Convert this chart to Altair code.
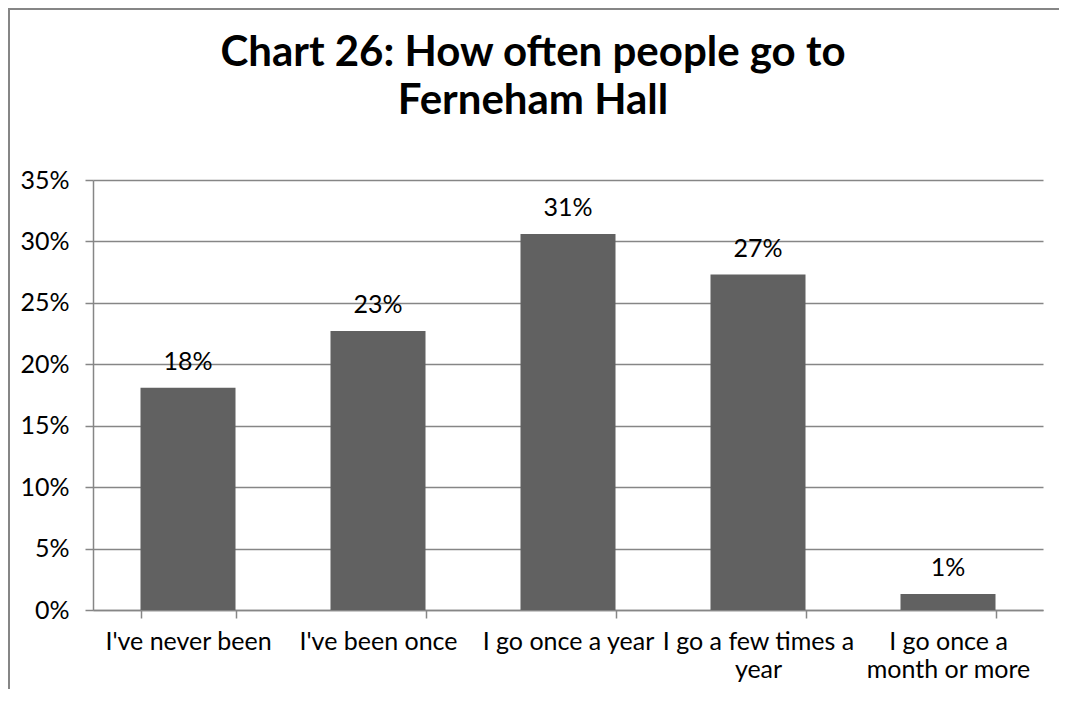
import altair as alt
import pandas as pd

categories = ["I've never been", "I've been once", "I go once a year",
              "I go a few times a year", "I go once a month or more"]
values = [0.181, 0.227, 0.306, 0.273, 0.013]
y_ticks = [0, 0.05, 0.10, 0.15, 0.20, 0.25, 0.30, 0.35]
title_text = "Chart 26: How often people go to\nFerneham Hall"

df = pd.DataFrame({"cat": categories, "val": values})

FONT = "Lato"
GRID = "#868686"
BAR = "#616161"
FS = 25

label_expr = ("datum.value == 'I go a few times a year' ? ['I go a few times a', 'year'] : "
              "datum.value == 'I go once a month or more' ? ['I go once a', 'month or more'] : datum.value")

x_enc = alt.X("cat:N", sort=categories,
              scale=alt.Scale(paddingInner=0.5, paddingOuter=0.25),
              axis=alt.Axis(title=None, labelAngle=0, labelExpr=label_expr,
                            tickBand="extent", tickSize=8, tickColor=GRID,
                            domainColor=GRID, domainWidth=1.5, tickWidth=1.5,
                            labelFont=FONT, labelFontSize=FS, labelColor="black",
                            labelBaseline="alphabetic", labelPadding=31,
                            labelLineHeight=28, labelLimit=0, grid=False))
y_enc = alt.Y("val:Q", scale=alt.Scale(domain=[0, 0.35], nice=False),
              axis=alt.Axis(title=None, values=y_ticks, format=".0%",
                            gridColor=GRID, gridWidth=1.5, tickColor=GRID,
                            tickWidth=1.5, tickSize=8, domainColor=GRID, domainWidth=1.5,
                            labelFont=FONT, labelFontSize=FS, labelColor="black",
                            labelPadding=16))

bars = alt.Chart(df).mark_bar(color=BAR).encode(x=x_enc, y=y_enc)
labels = alt.Chart(df).mark_text(font=FONT, fontSize=FS, color="black",
                                 baseline="alphabetic", dy=-18).encode(
    x=alt.X("cat:N", sort=categories), y="val:Q", text=alt.Text("val:Q", format=".0%"))

title_df = pd.DataFrame({"t": [title_text]})
title = alt.Chart(title_df).mark_text(font=FONT, fontSize=42, fontWeight="bold",
                                      color="black", lineBreak="\n", lineHeight=48,
                                      baseline="alphabetic", align="center").encode(
    text="t:N", x=alt.value(440), y=alt.value(-114))

top_border = alt.Chart(title_df).mark_rule(color=GRID, strokeWidth=2).encode(
    x=alt.value(-85), x2=alt.value(970), y=alt.value(-171))
left_border = alt.Chart(title_df).mark_rule(color=GRID, strokeWidth=2).encode(
    x=alt.value(-84), y=alt.value(-172), y2=alt.value(520))

chart = alt.layer(top_border, left_border, bars, labels, title).properties(
    width=950, height=430,
    padding={"left": 85, "top": 172, "right": 16, "bottom": 79},
    autosize=alt.AutoSizeParams(type="none"),
).configure_view(stroke=None)

chart.save("out.html", embed_options={"renderer": "svg", "actions": False})
